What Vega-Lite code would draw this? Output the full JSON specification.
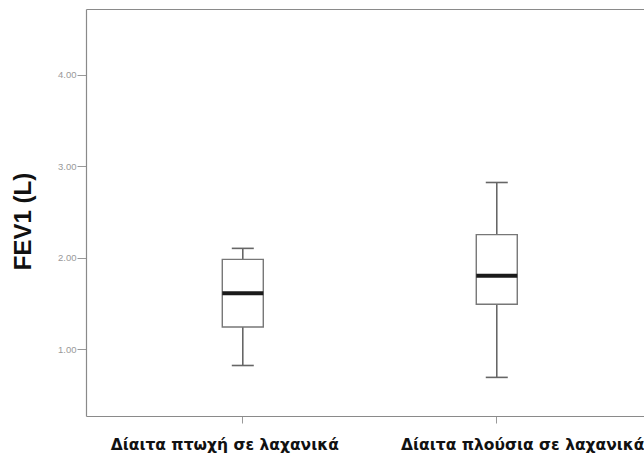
{
  "$schema": "https://vega.github.io/schema/vega-lite/v6.json",
  "autosize": {"type": "none"},
  "padding": {"left": 86, "top": 9, "right": 0, "bottom": 40},
  "width": 558,
  "height": 407,
  "background": "white",
  "config": {"view": {"stroke": null}},
  "data": {"values": [
    {"diet": "Δίαιτα πτωχή σε λαχανικά", "min": 0.82, "q1": 1.24, "median": 1.61, "q3": 1.98, "max": 2.10},
    {"diet": "Δίαιτα πλούσια σε λαχανικά", "min": 0.69, "q1": 1.49, "median": 1.80, "q3": 2.25, "max": 2.82}
  ]},
  "resolve": {"axis": {"x": "independent", "y": "independent"}},
  "layer": [
    {
      "encoding": {
        "x": {
          "field": "diet", "type": "nominal", "sort": null,
          "scale": {"type": "band", "paddingInner": 0.5, "paddingOuter": 0.3485, "align": 0.527},
          "axis": {
            "orient": "bottom", "title": null, "labelAngle": 0, "labelLimit": 0,
            "labelFont": "DejaVu Sans", "labelFontWeight": "bold", "labelFontSize": 15.5, "labelColor": "#111",
            "labelPadding": 14, "tickSize": 7, "tickColor": "#999", "domainColor": "#8a8a8a", "domainWidth": 1.2,
            "labelOffset": {"condition": {"test": "datum.value == 'Δίαιτα πτωχή σε λαχανικά'", "value": -18}, "value": 26}
          }
        },
        "y": {
          "type": "quantitative",
          "scale": {"domain": [0.268, 4.716], "nice": false, "zero": false},
          "axis": {
            "orient": "left",
            "title": "FEV1 (L)", "titleFont": "Liberation Sans", "titleFontSize": 24, "titleFontWeight": "bold", "titleColor": "#111",
            "titleX": -51, "titleY": 212, "titleAngle": -90, "titleAlign": "center", "titleBaseline": "bottom",
            "values": [1, 2, 3, 4], "format": ".2f", "grid": false,
            "labelFont": "Liberation Sans", "labelFontSize": 9.5, "labelColor": "#999", "labelPadding": 1,
            "tickSize": 9, "tickColor": "#999", "domainColor": "#8a8a8a", "domainWidth": 1.2
          }
        }
      },
      "layer": [
        {"mark": {"type": "rule", "color": "#666", "strokeWidth": 1.6, "opacity": 1},
         "encoding": {"y": {"field": "min"}, "y2": {"field": "max"}}},
        {"mark": {"type": "tick", "color": "#666", "size": 22, "thickness": 1.6, "opacity": 1},
         "encoding": {"y": {"field": "min"}}},
        {"mark": {"type": "tick", "color": "#666", "size": 22, "thickness": 1.6, "opacity": 1},
         "encoding": {"y": {"field": "max"}}},
        {"mark": {"type": "bar", "size": 41, "fill": "white", "stroke": "#777", "strokeWidth": 1.4, "opacity": 1},
         "encoding": {"y": {"field": "q1"}, "y2": {"field": "q3"}}},
        {"mark": {"type": "tick", "color": "#1a1a1a", "size": 41, "thickness": 4, "opacity": 1},
         "encoding": {"y": {"field": "median"}}}
      ]
    },
    {
      "mark": {"type": "tick", "opacity": 0},
      "encoding": {
        "x": {"field": "diet", "type": "nominal", "sort": null,
              "axis": {"orient": "top", "title": null, "labels": false, "ticks": false, "domainColor": "#8a8a8a", "domainWidth": 1.2}},
        "y": {"field": "median", "type": "quantitative", "axis": null}
      }
    }
  ]
}
